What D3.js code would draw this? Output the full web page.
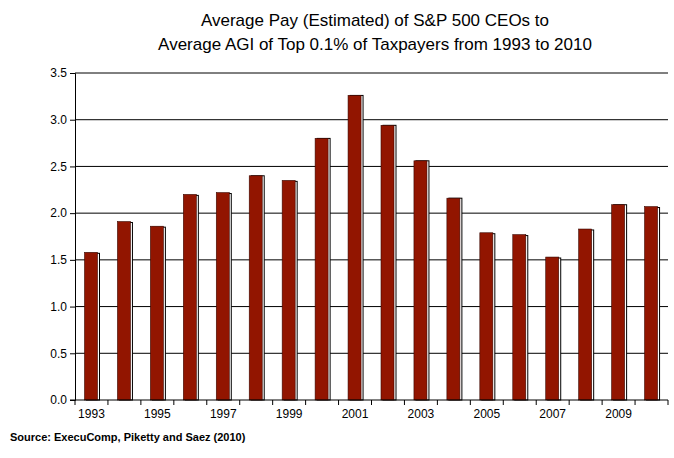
<!DOCTYPE html>
<html><head><meta charset="utf-8">
<script src="https://cdn.jsdelivr.net/npm/d3@7"></script>
<style>body{margin:0;background:#fff}</style></head>
<body><div id="chart"></div>
<script>
const years = [1993,1994,1995,1996,1997,1998,1999,2000,2001,2002,2003,2004,2005,2006,2007,2008,2009,2010];
const redValues = [1.58,1.91,1.86,2.20,2.22,2.40,2.35,2.80,3.26,2.94,2.56,2.16,1.79,1.77,1.53,1.83,2.09,2.07];
const whiteValues = [1.57,1.90,1.85,2.19,2.21,2.40,2.34,2.80,3.26,2.94,2.56,2.16,1.78,1.76,1.52,1.82,2.09,2.06];
const yTicks = [0,0.5,1,1.5,2,2.5,3,3.5];

const W = 674, H = 458;
const m = {left: 75, right: 6, top: 73, bottom: 58};
const svg = d3.select('#chart').append('svg').attr('width', W).attr('height', H)
    .style('font-family', 'Arial, Liberation Sans, sans-serif');

const x = d3.scaleBand().domain(years).range([m.left, W - m.right]);
const y = d3.scaleLinear().domain([0, 3.5]).range([H - m.bottom, m.top]);

// Title
svg.append('text').attr('x', 375).attr('y', 26).attr('text-anchor', 'middle')
    .attr('font-size', 17).text('Average Pay (Estimated) of S&P 500 CEOs to');
svg.append('text').attr('x', 375).attr('y', 50).attr('text-anchor', 'middle')
    .attr('font-size', 17).text('Average AGI of Top 0.1% of Taxpayers from 1993 to 2010');

// Gridlines
svg.append('g').selectAll('line').data(yTicks.slice(1)).join('line')
    .attr('x1', m.left).attr('x2', W - m.right)
    .attr('y1', d => y(d)).attr('y2', d => y(d))
    .attr('stroke', '#000').attr('stroke-width', 1);

// Y axis
const yAxis = svg.append('g').attr('transform', `translate(${m.left},0)`)
    .call(d3.axisLeft(y).tickValues(yTicks).tickFormat(d3.format('.1f')).tickSize(5));
yAxis.selectAll('text').attr('font-size', 12).attr('fill', '#000');
yAxis.select('.domain').attr('stroke', '#000');

const bw = 13;
// White series (behind)
svg.append('g').selectAll('rect').data(years).join('rect')
    .attr('x', (d) => x(d) + 11.5).attr('width', bw)
    .attr('y', (d, i) => y(whiteValues[i])).attr('height', (d, i) => y(0) - y(whiteValues[i]))
    .attr('fill', '#fff').attr('stroke', '#000').attr('stroke-width', 1);
// Red series
svg.append('g').selectAll('rect').data(years).join('rect')
    .attr('x', (d) => x(d) + 9.5).attr('width', bw)
    .attr('y', (d, i) => y(redValues[i])).attr('height', (d, i) => y(0) - y(redValues[i]))
    .attr('fill', '#921500').attr('stroke', '#3a0800').attr('stroke-width', 0.6);

// X axis
const xAxisG = svg.append('g').attr('transform', `translate(0,${y(0)})`);
xAxisG.append('line').attr('x1', m.left - 5).attr('x2', W - m.right)
    .attr('stroke', '#000');
xAxisG.selectAll('.tk').data(years.concat([null])).join('line')
    .attr('x1', (d, i) => m.left + i * x.step()).attr('x2', (d, i) => m.left + i * x.step())
    .attr('y1', 0).attr('y2', 5).attr('stroke', '#000');
xAxisG.selectAll('text').data(years.filter(d => d % 2 === 1)).join('text')
    .attr('x', d => x(d) + x.bandwidth() / 2).attr('y', 18)
    .attr('text-anchor', 'middle').attr('font-size', 12).text(d => d);

// Source
svg.append('text').attr('x', 10).attr('y', 441).attr('font-size', 11)
    .attr('font-weight', 'bold').text('Source:  ExecuComp, Piketty and Saez (2010)');
</script></body></html>
